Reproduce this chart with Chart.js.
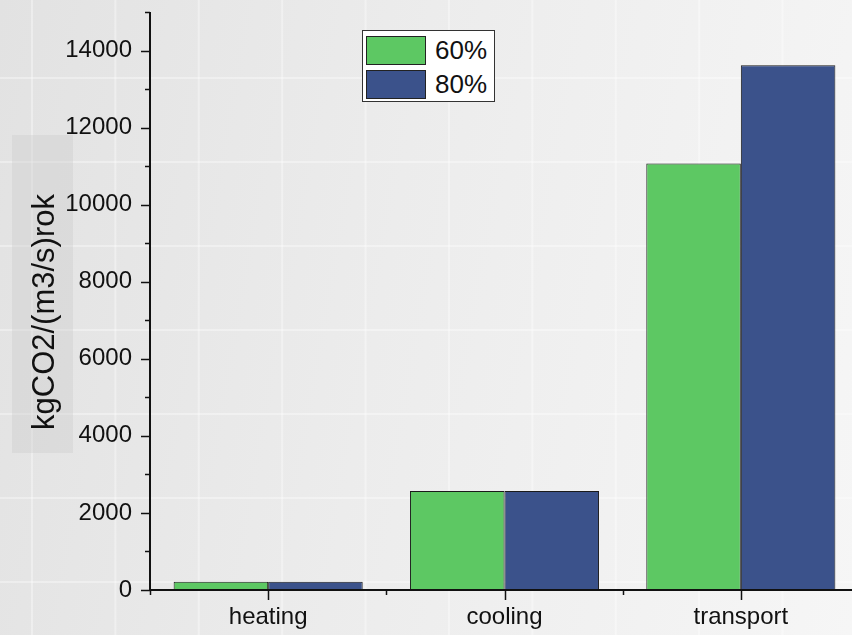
<!DOCTYPE html>
<html>
	<head>
		<meta charset="utf-8">
		<style type="text/css">
			html, body {
				margin: 0;
				width: 852px;
				height: 635px;
				overflow: hidden;
			}
			body {
				position: relative;
				background:
					linear-gradient(to right, rgba(255,255,255,0.35) 2px, transparent 2px) 31px 0 / 83.4px 100% repeat-x,
					linear-gradient(to bottom, rgba(255,255,255,0.35) 2px, transparent 2px) 0 77px / 100% 84px repeat-y,
					linear-gradient(100deg, #e2e2e2 0%, #ececec 45%, #f6f6f6 100%);
			}
			#wrap {
				position: absolute;
				left: 0;
				top: 0;
				width: 860px;
				height: 635px;
			}
			#legend {
				position: absolute;
				left: 362px;
				top: 30px;
				width: 131px;
				height: 70px;
				background: #fff;
				border: 1px solid #333;
				font-family: "Liberation Sans", Arial, sans-serif;
				font-size: 26px;
				color: #111;
			}
			.item {
				position: absolute;
				left: 3px;
				height: 30px;
				display: flex;
				align-items: center;
			}
			.swatch {
				width: 58px;
				height: 27px;
				border: 1.5px solid #222;
				margin-right: 9px;
			}
		</style>
	</head>
	<body>
		<div id="wrap"><canvas id="myChart"></canvas></div>
		<div id="legend"></div>
		<script src="https://cdn.jsdelivr.net/npm/chart.js@4.4.1/dist/chart.umd.min.js"></script>
		<script>
			var categories = ["heating", "cooling", "transport"];
			var seriesLabels = ["60%", "80%"];
			var values60 = [215, 2570, 11070];
			var values80 = [215, 2570, 13620];
			var seriesColors = ["#5dc863", "#3b528b"];
			var yTitle = 'kgCO2/(m3/s)rok';
			var yMax = 15000;
			var yStep = 1000;
			var yLabelStep = 2000;

			var fontFamily = '"Liberation Sans", Arial, sans-serif';

			// gray box and text of the y title (sits a bit below the axis middle)
			var titleBox = {
				id: 'titleBox',
				beforeDraw: function(chart) {
					var ctx = chart.ctx;
					ctx.save();
					ctx.fillStyle = 'rgba(200,200,200,0.35)';
					ctx.fillRect(12, 135, 61, 318);
					ctx.translate(45, 312);
					ctx.rotate(-Math.PI / 2);
					ctx.fillStyle = '#111';
					ctx.font = '31px ' + fontFamily;
					ctx.textAlign = 'center';
					ctx.textBaseline = 'middle';
					ctx.fillText(yTitle, 0, 0);
					ctx.restore();
				}
			};

			// axis lines, major and minor ticks
			var axisTicks = {
				id: 'axisTicks',
				afterDatasetsDraw: function(chart) {
					var ctx = chart.ctx;
					var a = chart.chartArea;
					var x = chart.scales.x;
					var y = chart.scales.y;
					ctx.save();
					ctx.strokeStyle = '#111';
					ctx.lineWidth = 2;
					ctx.beginPath();
					ctx.moveTo(a.left, a.top);
					ctx.lineTo(a.left, a.bottom);
					ctx.moveTo(a.left, a.bottom);
					ctx.lineTo(chart.width, a.bottom);
					ctx.stroke();
					ctx.lineWidth = 1.5;
					ctx.beginPath();
					y.ticks.forEach(function(t) {
						var py = Math.round(y.getPixelForValue(t.value)) + 0.5;
						var len = t.value % yLabelStep === 0 ? 9 : 5;
						ctx.moveTo(a.left, py);
						ctx.lineTo(a.left - len, py);
					});
					var w = (x.right - x.left) / categories.length;
					for (var i = 0; i < categories.length; i++) {
						var px = Math.round(x.getPixelForValue(i)) + 0.5;
						ctx.moveTo(px, a.bottom);
						ctx.lineTo(px, a.bottom + 10);
						var bx = Math.round(x.left + i * w) + 0.5;
						ctx.moveTo(bx, a.bottom);
						ctx.lineTo(bx, a.bottom + 5);
					}
					ctx.stroke();
					ctx.restore();
				}
			};

			var ctx = document.getElementById("myChart").getContext('2d');
			var myChart = new Chart(ctx, {
				type: 'bar',
				data: {
					labels: categories,
					datasets: [
						{
							label: seriesLabels[0],
							data: values60,
							backgroundColor: seriesColors[0],
							borderColor: '#1a1a1a',
							borderWidth: 1,
							borderSkipped: false
						},
						{
							label: seriesLabels[1],
							data: values80,
							backgroundColor: seriesColors[1],
							borderColor: '#1a1a1a',
							borderWidth: 1,
							borderSkipped: false
						}
					]
				},
				options: {
					responsive: true,
					maintainAspectRatio: false,
					animation: false,
					layout: {
						padding: {left: 12, top: 12, right: 1, bottom: 0}
					},
					datasets: {
						bar: {categoryPercentage: 0.8, barPercentage: 1.0}
					},
					plugins: {
						legend: {display: false},
						tooltip: {enabled: false}
					},
					scales: {
						x: {
							grid: {display: false, drawTicks: false},
							border: {display: false},
							ticks: {
								color: '#111',
								padding: 13,
								maxRotation: 0,
								font: {family: fontFamily, size: 24}
							},
							afterFit: function(scale) {
								scale.height = 45;
								scale.paddingLeft = 0;
								scale.paddingRight = 0;
							}
						},
						y: {
							min: 0,
							max: yMax,
							grid: {display: false, drawTicks: false},
							border: {display: false},
							ticks: {
								stepSize: yStep,
								color: '#111',
								padding: 18,
								font: {family: fontFamily, size: 24},
								callback: function(v) { return v % yLabelStep === 0 ? v : ''; }
							},
							afterFit: function(scale) {
								scale.width = 138;
								scale.paddingTop = 0;
								scale.paddingBottom = 0;
							}
						}
					}
				},
				plugins: [titleBox, axisTicks]
			});

			// html legend built from the datasets
			var legend = document.getElementById('legend');
			myChart.data.datasets.forEach(function(ds, i) {
				var item = document.createElement('div');
				item.className = 'item';
				item.style.top = (4 + i * 34) + 'px';
				var sw = document.createElement('div');
				sw.className = 'swatch';
				sw.style.background = ds.backgroundColor;
				var txt = document.createElement('span');
				txt.textContent = ds.label;
				item.appendChild(sw);
				item.appendChild(txt);
				legend.appendChild(item);
			});
		</script>
	</body>
</html>
